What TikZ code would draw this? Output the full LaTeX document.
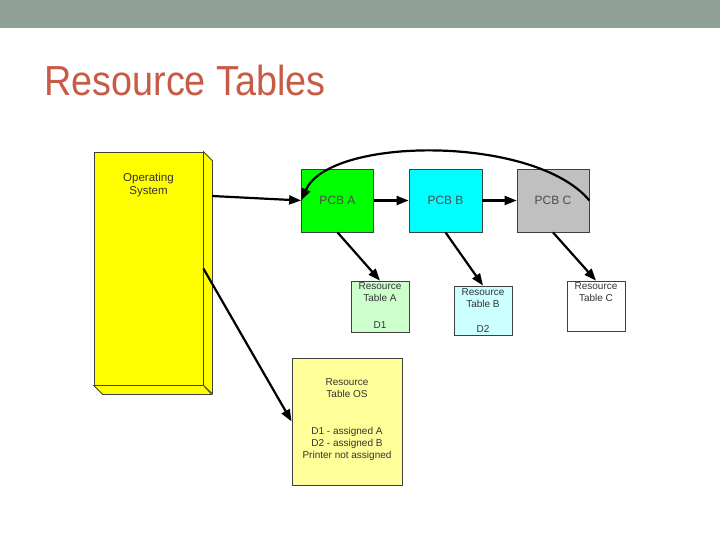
\documentclass[tikz,border=0pt]{standalone}
\usepackage{fontspec}
\setmainfont{Liberation Sans}
\newfontfamily\titlefont[FakeStretch=0.9]{Liberation Sans}
\usetikzlibrary{arrows.meta,positioning}
\definecolor{barcolor}{RGB}{146,161,151}
\definecolor{titlecolor}{RGB}{199,91,70}
\definecolor{osyellow}{RGB}{255,255,0}
\definecolor{pcbgreen}{RGB}{0,255,0}
\definecolor{pcbcyan}{RGB}{0,255,255}
\definecolor{pcbgray}{RGB}{192,192,192}
\definecolor{lightgreen}{RGB}{204,255,204}
\definecolor{lightcyan}{RGB}{204,255,255}
\definecolor{lightyellow}{RGB}{255,255,153}
\tikzset{
  box/.style={draw=black!75, line width=0.8pt, inner sep=0pt},
  lbl/.style={font=\fontsize{10}{12}\selectfont, text=black!80, align=center, inner sep=0pt},
  pcb/.style={box, minimum width=72pt, minimum height=63pt, text=black!70, font=\fontsize{12}{14}\selectfont},
  rtab/.style={box, minimum width=58pt, minimum height=50pt},
  link/.style={-{Triangle[length=12pt,width=9pt]}, line width=2.2pt},
}
\begin{document}
\begin{tikzpicture}[x=1pt, y=-1pt]
\useasboundingbox (0,0) rectangle (720,540);
\path [fill=barcolor] (0,0) rectangle (720,28);
\node [anchor=base west, inner sep=0pt, text=titlecolor, font=\titlefont\fontsize{42}{48}\selectfont] (title) at (44,96) {Resource Tables};

% operating system block
\node [box, fill=osyellow, minimum width=109pt, minimum height=233pt] (os) at (148.5,268.5) {};
\draw [draw=black!75, line width=0.8pt, fill=osyellow] (os.north east) -- ++(9,9) -- ++(0,233) -- (os.south east) -- cycle;
\draw [draw=black!75, line width=0.8pt, fill=osyellow] (os.south west) -- ++(9,9) -- ++(109,0) -- (os.south east) -- cycle;
\node [lbl, font=\fontsize{11.5}{13}\selectfont, below=21pt of os.north] (ostext) {Operating\\System};
\coordinate (osout) at (212,196);

% process control blocks
\node [pcb, fill=pcbgreen] (pcba) at (337.5,200.5) {PCB A};
\node [pcb, fill=pcbcyan, minimum width=73pt] (pcbb) at (445.5,200.5) {PCB B};
\node [pcb, fill=pcbgray] (pcbc) at (553,200.5) {PCB C};

% resource tables
\node [rtab, fill=lightgreen, minimum height=51pt] (rta) at (380,306.5) {};
\node [rtab, fill=lightcyan, minimum height=49pt] (rtb) at (483,310.5) {};
\node [rtab, fill=white] (rtc) at (596,306) {};
\node [box, fill=lightyellow, minimum width=110pt, minimum height=127pt] (rtos) at (347,421.5) {};
\node [lbl, below=2pt of rta.north] (rtatext) {Resource\\Table A};
\node [lbl, above=4pt of rta.south] (rtad) {D1};
\node [lbl, below=3pt of rtb.north] (rtbtext) {Resource\\Table B};
\node [lbl, above=3pt of rtb.south] (rtbd) {D2};
\node [lbl, below=2pt of rtc.north] (rtctext) {Resource\\Table C};
\node [lbl, below=21pt of rtos.north] (rtostext) {Resource\\Table OS};
\node [lbl, below=69pt of rtos.north] (rtosd) {D1 - assigned A\\D2 - assigned B\\Printer not assigned};

% links
\draw [link] (osout) -- (pcba.west);
\draw [link] (pcba.east) -- (pcbb.west);
\draw [link] (pcbb.east) -- (pcbc.west);
\draw [link] (pcbc.east) .. controls (535,135) and (330,136) .. (pcba.west);
\draw [link] (pcba.south) -- (rta.north);
\draw [link] (pcbb.south) -- (rtb.north);
\draw [link] (pcbc.south) -- (rtc.north);
\draw [link] (os.east) -- (rtos.west);
\end{tikzpicture}
\end{document}
